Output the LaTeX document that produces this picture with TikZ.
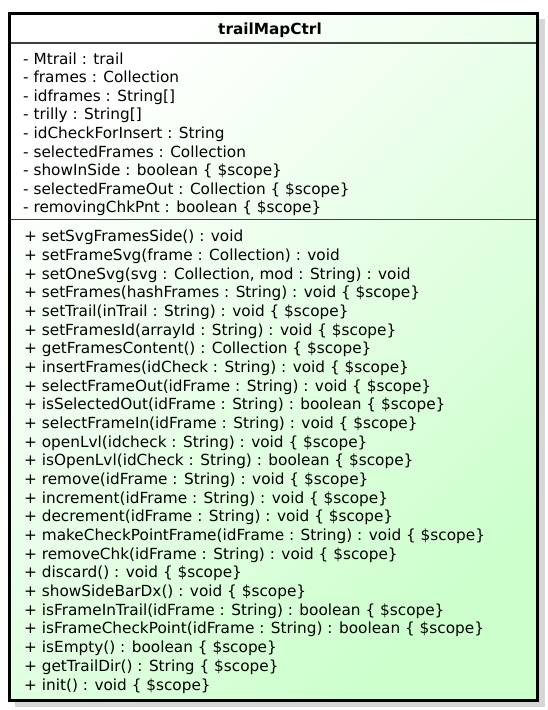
\documentclass[tikz,border=0pt]{standalone}
\usepackage{fontspec}
\setmainfont{DejaVu Sans}
\usetikzlibrary{positioning}
\definecolor{boxgreen}{RGB}{204,255,204}
\definecolor{shadowgray}{RGB}{214,214,214}

\begin{document}
\begin{tikzpicture}[x=1pt, y=-1pt,
    member/.style={anchor=base west, inner sep=0pt, align=left,
      font=\fontsize{15.3}{18.6}\selectfont}]
    \useasboundingbox (0,0) rectangle (548,710);
    % Sombra da classe
    \fill[shadowgray] (15,19) rectangle (545,707);
    % Corpo da classe (gradiente)
    \shade[top color=white, bottom color=boxgreen, shading angle=45] (9.5,13.5) rectangle (537.5,700);
    \draw[line width=3pt] (9.5,13.5) rectangle (537.5,700);
    % Separadores
    \draw[line width=1.4pt, black!75] (11,43) -- (536,43);
    \draw[line width=1.4pt, black!75] (11,219.5) -- (536,219.5);
    % Nome da classe
    \node[anchor=base, inner sep=0pt, font=\fontsize{15.3}{18.6}\selectfont\bfseries] (title) at (270,34.5) {trailMapCtrl};
    % Atributos (ancorado na linha de base da ultima linha)
    \node[member] (attrs) at (23,212.8) {%
      - Mtrail : trail\\
      - frames : Collection\\
      - idframes : String[]\\
      - trilly : String[]\\
      - idCheckForInsert : String\\
      - selectedFrames : Collection\\
      - showInSide : boolean \{ \$scope\}\\
      - selectedFrameOut : Collection \{ \$scope\}\\
      - removingChkPnt : boolean \{ \$scope\}};
    % Operações
    \node[member, font=\fontsize{15.3}{18.67}\selectfont] (ops) at (24,690) {%
      + setSvgFramesSide() : void\\
      + setFrameSvg(frame : Collection) : void\\
      + setOneSvg(svg : Collection, mod : String) : void\\
      + setFrames(hashFrames : String) : void \{ \$scope\}\\
      + setTrail(inTrail : String) : void \{ \$scope\}\\
      + setFramesId(arrayId : String) : void \{ \$scope\}\\
      + getFramesContent() : Collection \{ \$scope\}\\
      + insertFrames(idCheck : String) : void \{ \$scope\}\\
      + selectFrameOut(idFrame : String) : void \{ \$scope\}\\
      + isSelectedOut(idFrame : String) : boolean \{ \$scope\}\\
      + selectFrameIn(idFrame : String) : void \{ \$scope\}\\
      + openLvl(idcheck : String) : void \{ \$scope\}\\
      + isOpenLvl(idCheck : String) : boolean \{ \$scope\}\\
      + remove(idFrame : String) : void \{ \$scope\}\\
      + increment(idFrame : String) : void \{ \$scope\}\\
      + decrement(idFrame : String) : void \{ \$scope\}\\
      + makeCheckPointFrame(idFrame : String) : void \{ \$scope\}\\
      + removeChk(idFrame : String) : void \{ \$scope\}\\
      + discard() : void \{ \$scope\}\\
      + showSideBarDx() : void \{ \$scope\}\\
      + isFrameInTrail(idFrame : String) : boolean \{ \$scope\}\\
      + isFrameCheckPoint(idFrame : String) : boolean \{ \$scope\}\\
      + isEmpty() : boolean \{ \$scope\}\\
      + getTrailDir() : String \{ \$scope\}\\
      + init() : void \{ \$scope\}};
\end{tikzpicture}
\end{document}
